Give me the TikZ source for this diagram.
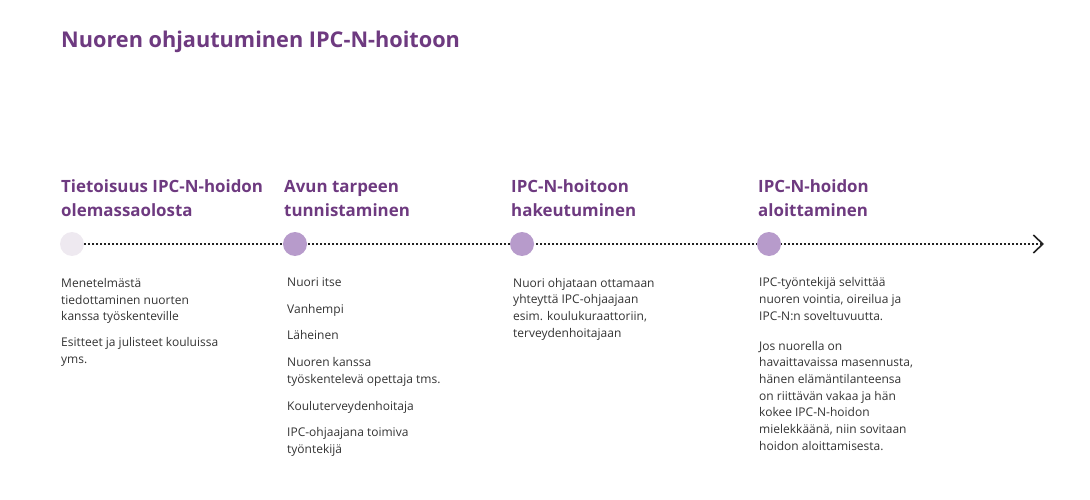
\documentclass[tikz,border=0pt]{standalone}
\usepackage{fontspec}
\setmainfont{Open Sans}
\usetikzlibrary{arrows.meta,backgrounds}
\definecolor{titlepurple}{HTML}{6E3A80}
\definecolor{dotpurple}{HTML}{B79BCB}
\definecolor{palepurple}{HTML}{EEE9F0}
\definecolor{bodygray}{HTML}{333333}
\definecolor{linegray}{HTML}{222222}
\newcommand\toplines[1]{\begin{tabular}[t]{@{}l@{}}#1\end{tabular}}
\begin{document}
\begin{tikzpicture}[x=1pt,y=-1pt,
  titletext/.style={anchor=base west,inner sep=0pt,text=titlepurple,font=\fontsize{21.7}{26}\selectfont\bfseries},
  headtext/.style={anchor=base west,inner sep=0pt,text=titlepurple,font=\fontsize{16.9}{24.3}\selectfont\bfseries},
  bodytext/.style={anchor=base west,inner sep=0pt,text=bodygray,font=\fontsize{12}{16.7}\selectfont},
  stepdot/.style={circle,fill=dotpurple,minimum size=24pt,inner sep=0pt},
  timeline/.style={draw=linegray,line width=1.6pt,dash pattern=on 1.6pt off 2.4pt,
    -{Straight Barb[length=9.5pt,width=18pt,line width=1.6pt]}}
]
\useasboundingbox (0,0) rectangle (1090,500);
\node[titletext] (title) at (61,48) {Nuoren ohjautuminen IPC-N-hoitoon};

\node[headtext] (h1) at (61,192.5) {\toplines{Tietoisuus IPC-N-hoidon\\olemassaolosta}};
\node[headtext] (h2) at (284,192.5) {\toplines{Avun tarpeen\\tunnistaminen}};
\node[headtext] (h3) at (511,192.5) {\toplines{IPC-N-hoitoon\\hakeutuminen}};
\node[headtext] (h4) at (758,192.5) {\toplines{IPC-N-hoidon\\aloittaminen}};

\coordinate (end) at (1044,244);
\node[stepdot,fill=palepurple] (c1) at (72,244) {};
\node[stepdot] (c2) at (295,244) {};
\node[stepdot] (c3) at (522,244) {};
\node[stepdot] (c4) at (769,244) {};
\begin{scope}[on background layer]
\draw[timeline] (c1.east) -- (end);
\end{scope}

\node[bodytext] (t11) at (61,287.5) {\toplines{Menetelmästä\\tiedottaminen nuorten\\kanssa työskenteville}};
\node[bodytext] (t12) at (61,346.7) {\toplines{Esitteet ja julisteet kouluissa\\yms.}};

\node[bodytext] (t21) at (287,286.7) {Nuori itse};
\node[bodytext] (t22) at (287,313.3) {Vanhempi};
\node[bodytext] (t23) at (287,339.5) {Läheinen};
\node[bodytext] (t24) at (287,366.7) {\toplines{Nuoren kanssa\\työskentelevä opettaja tms.}};
\node[bodytext] (t25) at (287,410) {Kouluterveydenhoitaja};
\node[bodytext] (t26) at (287,436.7) {\toplines{IPC-ohjaajana toimiva\\työntekijä}};

\node[bodytext] (t31) at (513,287) {\toplines{Nuori ohjataan ottamaan\\yhteyttä IPC-ohjaajaan\\esim. koulukuraattoriin,\\terveydenhoitajaan}};

\node[bodytext] (t41) at (759,286.7) {\toplines{IPC-työntekijä selvittää\\nuoren vointia, oireilua ja\\IPC-N:n soveltuvuutta.}};
\node[bodytext] (t42) at (759,350) {\toplines{Jos nuorella on\\havaittavaissa masennusta,\\hänen elämäntilanteensa\\on riittävän vakaa ja hän\\kokee IPC-N-hoidon\\mielekkäänä, niin sovitaan\\hoidon aloittamisesta.}};
\end{tikzpicture}
\end{document}
